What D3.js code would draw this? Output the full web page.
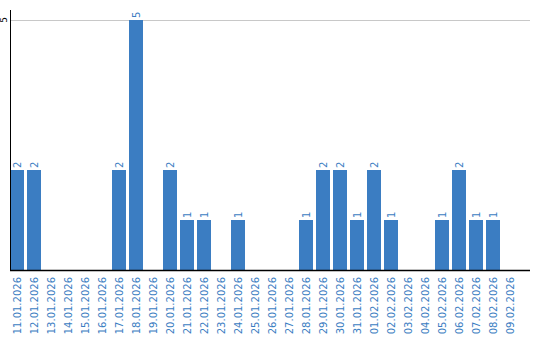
<!DOCTYPE html>
<html>
<head>
<meta charset="utf-8">
<script src="https://cdn.jsdelivr.net/npm/d3@7"></script>
<style>
  body { margin: 0; background: #fff; }
  text { font-family: "DejaVu Sans", Verdana, sans-serif; }
</style>
</head>
<body>
<div id="chart"></div>
<script>
// dates and counts per day
var days = ["11.01.2026","12.01.2026","13.01.2026","14.01.2026","15.01.2026","16.01.2026",
  "17.01.2026","18.01.2026","19.01.2026","20.01.2026","21.01.2026","22.01.2026","23.01.2026",
  "24.01.2026","25.01.2026","26.01.2026","27.01.2026","28.01.2026","29.01.2026","30.01.2026",
  "31.01.2026","01.02.2026","02.02.2026","03.02.2026","04.02.2026","05.02.2026","06.02.2026",
  "07.02.2026","08.02.2026","09.02.2026"];
var counts = [2,2,0,0,0,0,2,5,0,2,1,1,0,1,0,0,0,1,2,2,1,2,1,0,0,1,2,1,1,0];
var yTicks = [5];

const blue = '#3b7dc2'
var W = 540, H = 340;

var svg = d3.select('#chart').append('svg').attr('width', W).attr('height', H)

var x = d3.scaleBand().domain(days).range([10, 517]).paddingInner(3/17).paddingOuter(0)
var y = d3.scaleLinear().domain([0, 5]).range([270, 20])

// grid line at 5
svg.selectAll('.grid').data(yTicks).enter().append('line')
  .attr('x1', 10).attr('x2', 530)
  .attr('y1', d => y(d) + 0.5).attr('y2', d => y(d) + 0.5)
  .attr('stroke', '#c8c8c8').attr('stroke-width', 1)

var data = d3.zip(days, counts)

// bars
svg.selectAll('.bar').data(data).enter().append('rect')
  .attr('x', d => x(d[0]))
  .attr('y', d => y(d[1]))
  .attr('width', x.bandwidth())
  .attr('height', d => y(0) - y(d[1]))
  .attr('fill', blue)

// value labels (rotated)
svg.selectAll('.val').data(data.filter(d => d[1] > 0)).enter().append('text')
  .attr('transform', d => `translate(${x(d[0]) + x.bandwidth() / 2 + 3.5},${y(d[1]) - 2}) rotate(-90)`)
  .attr('fill', blue)
  .attr('font-size', 10)
  .text(d => d[1])

// y axis
svg.append('line').attr('x1', 10.5).attr('x2', 10.5).attr('y1', 10).attr('y2', 270)
  .attr('stroke', '#000').attr('stroke-width', 1)
svg.selectAll('.ytick').data(yTicks).enter().append('text')
  .attr('transform', d => `translate(7,${y(d)}) rotate(-90)`)
  .attr('text-anchor', 'middle')
  .attr('font-size', 9)
  .attr('fill', '#000')
  .text(d => d)

// x axis baseline
svg.append('line').attr('x1', 10).attr('x2', 530).attr('y1', 270.5).attr('y2', 270.5)
  .attr('stroke', '#000').attr('stroke-width', 1.5)

// x labels
svg.selectAll('.xl').data(days).enter().append('text')
  .attr('transform', d => `translate(${x(d) + x.bandwidth() / 2 + 4},277) rotate(-90)`)
  .attr('text-anchor', 'end')
  .attr('font-size', 10)
  .attr('fill', blue)
  .text(d => d)
</script>
</body>
</html>
